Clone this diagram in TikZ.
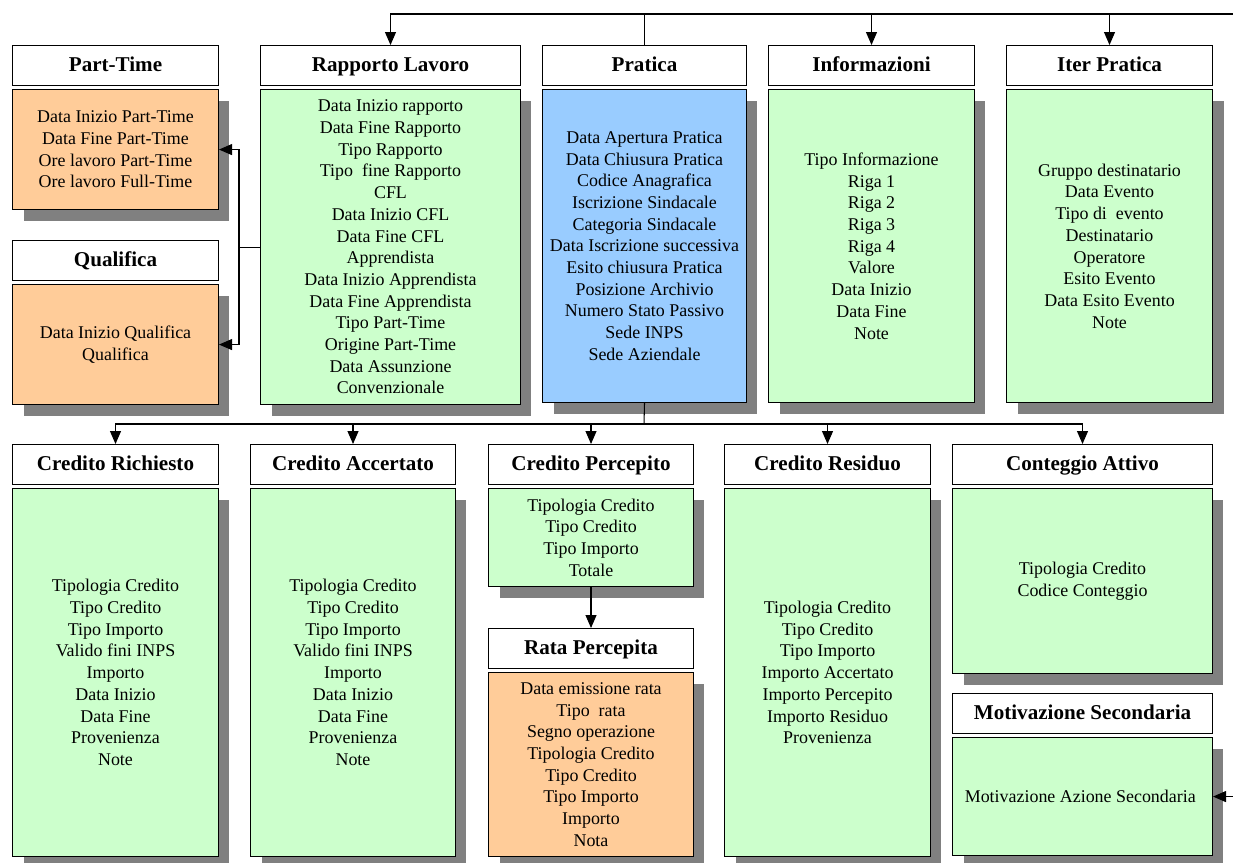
\documentclass[tikz,border=0pt]{standalone}
\usepackage{fontspec}
\setmainfont{Liberation Serif}
\usetikzlibrary{positioning,arrows.meta,shadows}
\definecolor{verde}{HTML}{CCFFCC}
\definecolor{arancio}{HTML}{FFCC99}
\definecolor{azzurro}{HTML}{99CCFF}
\definecolor{ombra}{HTML}{808080}
\tikzset{
>={Triangle[length=0.26cm,width=0.22cm]},
node distance=0.06cm,
}

\begin{document}
\begin{tikzpicture}
        [x=0.02cm, y=-0.02cm,
        line width=0.6pt,
        titolo/.style={draw, fill=white, anchor=north west, minimum height=0.8cm, inner sep=0pt,
            text height=1.9ex, text depth=0.35ex, font=\bfseries\fontsize{12}{14}\selectfont},
        campi/.style={draw, align=center, inner sep=0pt, font=\fontsize{10.2}{12.35}\selectfont,
            drop shadow={shadow xshift=0.22cm, shadow yshift=-0.22cm, fill=ombra, opacity=1}}
        ]
        \useasboundingbox (0,0) rectangle (1233,862);

        \node [titolo, minimum width=4.12cm] (pt_h) at (12,45) {Part-Time};
        \node [campi, fill=arancio, minimum width=4.12cm, minimum height=2.4cm] (pt) [below=of pt_h]
        {
            Data Inizio Part-Time
            \\
            Data Fine Part-Time
            \\
            Ore lavoro Part-Time
            \\
            Ore lavoro Full-Time
        };

        \node [titolo, minimum width=4.12cm] (ql_h) at (12,240) {Qualifica};
        \node [campi, fill=arancio, minimum width=4.12cm, minimum height=2.4cm] (ql) [below=of ql_h]
        {
            Data Inizio Qualifica
            \\
            Qualifica
        };

        \node [titolo, minimum width=5.2cm] (rl_h) at (260,45) {Rapporto Lavoro};
        \node [campi, fill=verde, minimum width=5.2cm, minimum height=6.3cm] (rl) [below=of rl_h]
        {
            Data Inizio rapporto
            \\
            Data Fine Rapporto
            \\
            Tipo Rapporto
            \\
            Tipo\ \ fine Rapporto
            \\
            CFL
            \\
            Data Inizio CFL
            \\
            Data Fine CFL
            \\
            Apprendista
            \\
            Data Inizio Apprendista
            \\
            Data Fine Apprendista
            \\
            Tipo Part-Time
            \\
            Origine Part-Time
            \\
            Data Assunzione
            \\
            Convenzionale
        };

        \node [titolo, minimum width=4.08cm] (pr_h) at (542,45) {Pratica};
        \node [campi, fill=azzurro, minimum width=4.08cm, minimum height=6.26cm] (pr) [below=of pr_h]
        {
            Data Apertura Pratica
            \\
            Data Chiusura Pratica
            \\
            Codice Anagrafica
            \\
            Iscrizione Sindacale
            \\
            Categoria Sindacale
            \\
            Data Iscrizione successiva
            \\
            Esito chiusura Pratica
            \\
            Posizione Archivio
            \\
            Numero Stato Passivo
            \\
            Sede INPS
            \\
            Sede Aziendale
        };

        \node [titolo, minimum width=4.12cm] (inf_h) at (768,45) {Informazioni};
        \node [campi, fill=verde, minimum width=4.12cm, minimum height=6.26cm] (inf) [below=of inf_h]
        {
            Tipo Informazione
            \\
            Riga 1
            \\
            Riga 2
            \\
            Riga 3
            \\
            Riga 4
            \\
            Valore
            \\
            Data Inizio
            \\
            Data Fine
            \\
            Note
        };

        \node [titolo, minimum width=4.12cm] (ip_h) at (1006,45) {Iter Pratica};
        \node [campi, fill=verde, minimum width=4.12cm, minimum height=6.26cm] (ip) [below=of ip_h]
        {
            Gruppo destinatario
            \\
            Data Evento
            \\
            Tipo di\ \ evento
            \\
            Destinatario
            \\
            Operatore
            \\
            Esito Evento
            \\
            Data Esito Evento
            \\
            Note
        };

        \node [titolo, minimum width=4.12cm] (cr_h) at (12,444) {Credito Richiesto};
        \node [campi, fill=verde, minimum width=4.12cm, minimum height=7.36cm] (cr) [below=of cr_h]
        {
            Tipologia Credito
            \\
            Tipo Credito
            \\
            Tipo Importo
            \\
            Valido fini INPS
            \\
            Importo
            \\
            Data Inizio
            \\
            Data Fine
            \\
            Provenienza
            \\
            Note
        };

        \node [titolo, minimum width=4.1cm] (ca_h) at (250,444) {Credito Accertato};
        \node [campi, fill=verde, minimum width=4.1cm, minimum height=7.36cm] (ca) [below=of ca_h]
        {
            Tipologia Credito
            \\
            Tipo Credito
            \\
            Tipo Importo
            \\
            Valido fini INPS
            \\
            Importo
            \\
            Data Inizio
            \\
            Data Fine
            \\
            Provenienza
            \\
            Note
        };

        \node [titolo, minimum width=4.1cm] (cp_h) at (488,444) {Credito Percepito};
        \node [campi, fill=verde, minimum width=4.1cm, minimum height=1.96cm] (cp) [below=of cp_h]
        {
            Tipologia Credito
            \\
            Tipo Credito
            \\
            Tipo Importo
            \\
            Totale
        };

        \node [titolo, minimum width=4.1cm] (rp_h) at (488,628) {Rata Percepita};
        \node [campi, fill=arancio, minimum width=4.1cm, minimum height=3.68cm] (rp) [below=of rp_h]
        {
            Data emissione rata
            \\
            Tipo\ \ rata
            \\
            Segno operazione
            \\
            Tipologia Credito
            \\
            Tipo Credito
            \\
            Tipo Importo
            \\
            Importo
            \\
            Nota
        };

        \node [titolo, minimum width=4.12cm] (cres_h) at (724,444) {Credito Residuo};
        \node [campi, fill=verde, minimum width=4.12cm, minimum height=7.36cm] (cres) [below=of cres_h]
        {
            Tipologia Credito
            \\
            Tipo Credito
            \\
            Tipo Importo
            \\
            Importo Accertato
            \\
            Importo Percepito
            \\
            Importo Residuo
            \\
            Provenienza
        };

        \node [titolo, minimum width=5.2cm] (cat_h) at (952,444) {Conteggio Attivo};
        \node [campi, fill=verde, minimum width=5.2cm, minimum height=3.7cm] (cat) [below=of cat_h]
        {
            Tipologia Credito
            \\
            Codice Conteggio
        };

        \node [titolo, minimum width=5.2cm] (ms_h) at (952,693) {Motivazione Secondaria};
        \node [campi, fill=verde, minimum width=5.2cm, minimum height=2.36cm] (ms) [below=of ms_h]
        {
            Motivazione Azione Secondaria
        };

        \coordinate (capo) at (1233,14);
        \coordinate (snodo) at (644,424);
        \draw[->] (capo) -| (rl_h.north);
        \draw (pr_h.north |- capo) -- (pr_h.north);
        \draw[->] (inf_h.north |- capo) -- (inf_h.north);
        \draw[->] (ip_h.north |- capo) -- (ip_h.north);

        \draw (rl.west) -- ++(-0.42cm,0) coordinate (sx);
        \draw[->] (sx) |- (pt.east);
        \draw[->] (sx) |- (ql.east);

        \draw (pr.south) -- (snodo);
        \draw[->] (snodo) -| (cr_h.north);
        \draw[->] (snodo) -| (ca_h.north);
        \draw[->] (snodo) -| (cp_h.north);
        \draw[->] (snodo) -| (cres_h.north);
        \draw[->] (snodo) -| (cat_h.north);
        \draw[->] (cp.south) -- (rp_h.north);

        \coordinate (dx) at ([xshift=0.42cm]ms.east);
        \draw[->] (dx) -- (ms.east);
\end{tikzpicture}
\end{document}
